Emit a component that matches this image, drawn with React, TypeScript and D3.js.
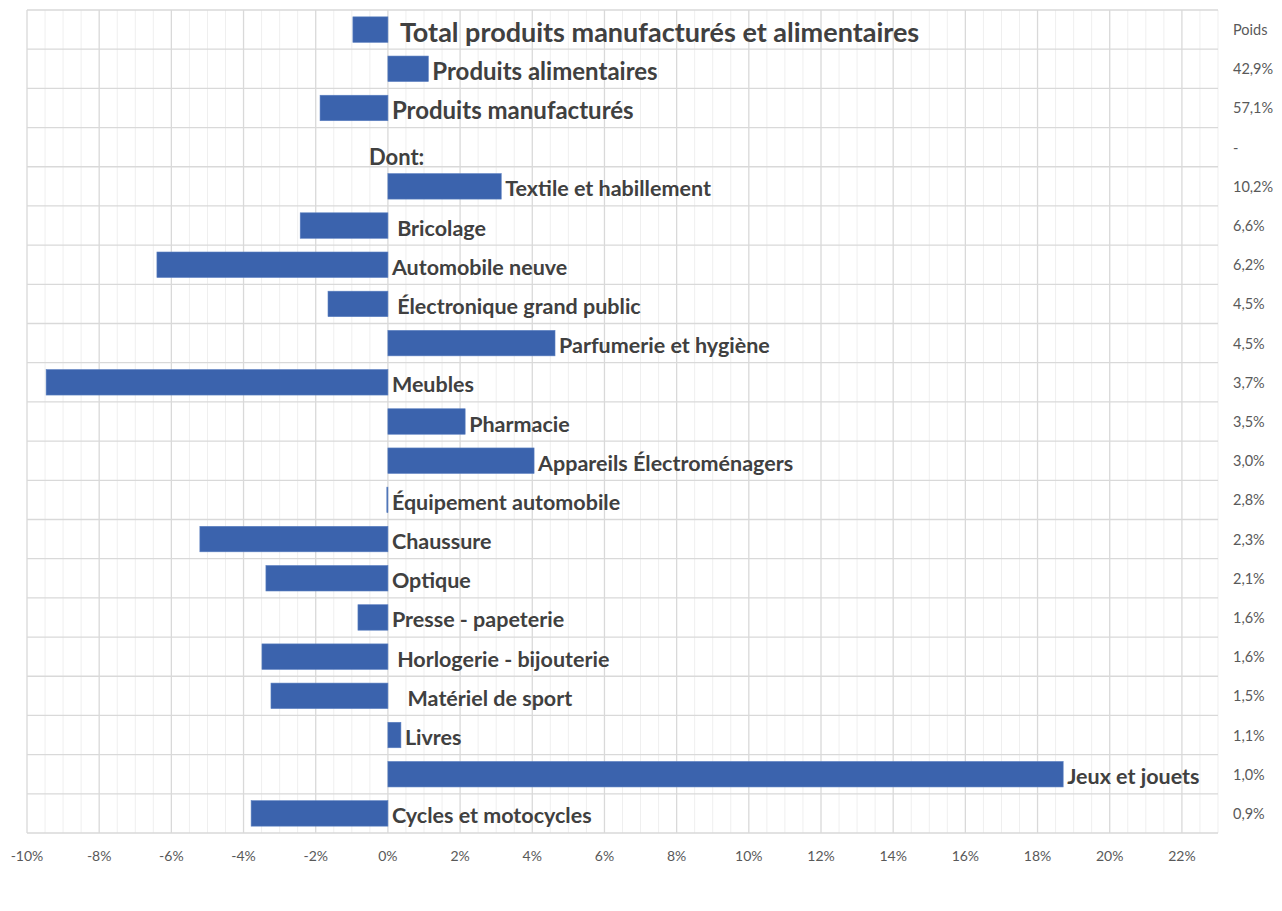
import React from "react";
import { scaleLinear, scaleBand, range } from "d3";

const categories = [
  "Total produits manufacturés et alimentaires",
  "Produits alimentaires",
  "Produits manufacturés",
  "Dont:",
  "Textile et habillement",
  " Bricolage",
  "Automobile neuve",
  " Électronique grand public",
  "Parfumerie et hygiène",
  "Meubles",
  "Pharmacie",
  "Appareils Électroménagers",
  "Équipement automobile",
  "Chaussure",
  "Optique",
  "Presse - papeterie",
  " Horlogerie - bijouterie",
  "   Matériel de sport",
  "Livres",
  "Jeux et jouets",
  "Cycles et motocycles",
];

// variation in %, null = heading row
const values: (number | null)[] = [
  -0.97, 1.12, -1.88, null, 3.14, -2.43, -6.4, -1.66, 4.63, -9.47, 2.14, 4.05,
  -0.03, -5.21, -3.38, -0.83, -3.49, -3.24, 0.36, 18.71, -3.79,
];

const poids = [
  "Poids", "42,9%", "57,1%", "-", "10,2%", "6,6%", "6,2%", "4,5%", "4,5%",
  "3,7%", "3,5%", "3,0%", "2,8%", "2,3%", "2,1%", "1,6%", "1,6%", "1,5%",
  "1,1%", "1,0%", "0,9%",
];

const xTicks = range(-10, 23, 2);

const width = 1282;
const height = 911;
const margin = { top: 10, right: 64, bottom: 78, left: 27 };
const font = "Lato, 'Open Sans', sans-serif";
const textColor = "#404040";

export default function App() {
  const x = scaleLinear()
    .domain([-10, 23])
    .range([margin.left, width - margin.right]);
  const y = scaleBand()
    .domain(categories.map((_, i) => String(i)))
    .range([margin.top, height - margin.bottom])
    .paddingInner(0.35)
    .paddingOuter(0.175);
  const step = y.step();
  const rowTop = (i: number) => margin.top + i * step;
  const minor = range(-10, 23.01, 0.5);
  const bottom = height - margin.bottom;

  return (
    <div style={{ position: "absolute", left: 0, top: 0 }}>
      <svg width={width} height={height} style={{ display: "block", background: "#fff" }}>
        {/* minor vertical grid */}
        {minor.map((v) => (
          <line
            key={"m" + v}
            x1={x(v)}
            x2={x(v)}
            y1={margin.top}
            y2={bottom}
            stroke={Math.abs(v % 2) === 0 ? "#d9d9d9" : "#efefef"}
            strokeWidth={Math.abs(v % 2) === 0 ? 1.3 : 1}
          />
        ))}
        {/* horizontal grid */}
        {range(categories.length + 1).map((i) => (
          <line
            key={"h" + i}
            x1={x(-10)}
            x2={x(23)}
            y1={rowTop(i)}
            y2={rowTop(i)}
            stroke="#d9d9d9"
            strokeWidth={1.3}
          />
        ))}
        {/* bars */}
        {values.map((v, i) =>
          v === null ? null : (
            <rect
              key={"b" + i}
              x={Math.min(x(0), x(v))}
              y={y(String(i))}
              width={Math.max(Math.abs(x(v) - x(0)), 1)}
              height={y.bandwidth()}
              fill="#3b63ad"
              stroke="#5a7fc0"
              strokeWidth={0.6}
            />
          )
        )}
        {/* category labels */}
        {categories.map((c, i) => {
          const v = values[i];
          const cy = rowTop(i) + step / 2;
          if (v === null) {
            return (
              <text
                key={"l" + i}
                x={x(0) - 19}
                y={cy + 9}
                dominantBaseline="central"
                fontFamily={font}
                fontWeight="bold"
                fontSize={22}
                fill={textColor}
              >
                {c}
              </text>
            );
          }
          const size = i === 0 ? 27 : i < 3 ? 24 : 21.5;
          return (
            <text
              key={"l" + i}
              x={x(Math.max(v, 0)) + (i === 0 ? 12 : 4)}
              y={cy + 2}
              dominantBaseline="central"
              fontFamily={font}
              fontWeight="bold"
              fontSize={size}
              fill={textColor}
              style={{ whiteSpace: "pre" }}
            >
              {c}
            </text>
          );
        })}
        {/* poids column */}
        {poids.map((p, i) => (
          <text
            key={"p" + i}
            x={1233}
            y={rowTop(i) + step / 2}
            dominantBaseline="central"
            fontFamily={font}
            fontSize={14.5}
            fill="#595959"
          >
            {p}
          </text>
        ))}
        {/* x axis labels */}
        {xTicks.map((t) => (
          <text
            key={"t" + t}
            x={x(t)}
            y={bottom + 22}
            dominantBaseline="central"
            textAnchor="middle"
            fontFamily={font}
            fontSize={14}
            fill="#595959"
          >
            {t + "%"}
          </text>
        ))}
      </svg>
    </div>
  );
}
